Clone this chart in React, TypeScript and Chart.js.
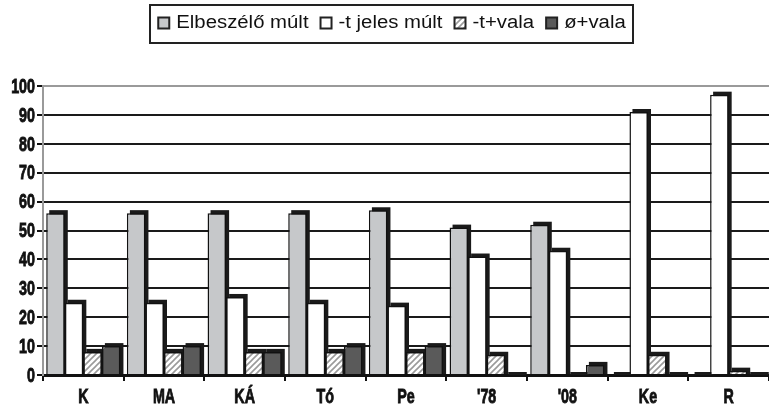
import { useEffect, useRef } from 'react';
import { Chart, registerables } from 'chart.js';

Chart.register(...registerables);

const categories = ['K', 'MA', 'KÁ', 'Tó', 'Pe', "'78", "'08", 'Ke', 'R'];
const seriesNames = ['Elbeszélő múlt', '-t jeles múlt', '-t+vala', 'ø+vala'];
const elbeszeloMult = [56, 56, 56, 56, 57, 51, 52, 0, 0];
const tJelesMult = [25, 25, 27, 25, 24, 41, 43, 91, 97];
const tVala = [8, 8, 8, 8, 8, 7, 0, 7, 1.5];
const oVala = [10, 10, 8, 10, 10, 0, 3.5, 0, 0];
const yTickValues = [0, 10, 20, 30, 40, 50, 60, 70, 80, 90, 100];

const SANS = "'Liberation Sans', Arial, 'DejaVu Sans', sans-serif";
const TICK_FONT = "bold 21px 'Liberation Sans', Arial, sans-serif";
const TICK_SX = 0.68;
const LEGEND_FONT = "18px 'Liberation Sans', Arial, sans-serif";
const LEGEND_SX = 1.13;

function makeHatch(): CanvasPattern | string {
  const c = document.createElement('canvas');
  c.width = 6;
  c.height = 6;
  const g = c.getContext('2d');
  if (!g) return '#ccc';
  g.fillStyle = '#ffffff';
  g.fillRect(0, 0, 6, 6);
  g.strokeStyle = '#9a9a9a';
  g.lineWidth = 1.6;
  g.beginPath();
  g.moveTo(-1, 7);
  g.lineTo(7, -1);
  g.moveTo(-4, 4);
  g.lineTo(4, -4);
  g.moveTo(2, 10);
  g.lineTo(10, 2);
  g.stroke();
  const p = g.createPattern(c, 'repeat');
  return p || '#ccc';
}

function drawScaled(ctx: CanvasRenderingContext2D, text: string, x: number, y: number, align: CanvasTextAlign, sx: number, heavy = false) {
  ctx.save();
  ctx.translate(x, y);
  ctx.scale(sx, 1);
  ctx.textAlign = align;
  ctx.textBaseline = 'middle';
  ctx.fillText(text, 0, 0);
  if (heavy) {
    ctx.lineWidth = 0.9;
    ctx.strokeStyle = ctx.fillStyle as string;
    ctx.strokeText(text, 0, 0);
  }
  ctx.restore();
}

const depthPlugin = {
  id: 'depth',
  beforeDatasetsDraw(chart: any) {
    const ctx = chart.ctx;
    const d = 3;
    ctx.save();
    ctx.fillStyle = '#1a1a1a';
    chart.data.datasets.forEach((_: any, i: number) => {
      const meta = chart.getDatasetMeta(i);
      meta.data.forEach((bar: any) => {
        const w = bar.width;
        const left = bar.x - w / 2 + d;
        const top = bar.y - d;
        ctx.fillRect(left, top, w, bar.base - top);
      });
    });
    ctx.restore();
  },
};

const labelsPlugin = {
  id: 'condensedLabels',
  afterDraw(chart: any) {
    const ctx: CanvasRenderingContext2D = chart.ctx;
    const xs = chart.scales.x;
    const ys = chart.scales.y;
    ctx.save();
    ctx.fillStyle = '#111';
    ctx.font = TICK_FONT;
    xs.ticks.forEach((_: any, i: number) => {
      drawScaled(ctx, String(categories[i]), xs.getPixelForTick(i), 397, 'center', TICK_SX, true);
    });
    yTickValues.forEach((v) => {
      drawScaled(ctx, String(v), 35, ys.getPixelForValue(v) + 1, 'right', TICK_SX, true);
    });

    // legend
    ctx.font = LEGEND_FONT;
    const box = 11;
    const gapText = 7;
    const gapItem = 12;
    const widths = seriesNames.map((s) => ctx.measureText(s).width * LEGEND_SX);
    const total = widths.reduce((a, w) => a + box + gapText + w, 0) + gapItem * (seriesNames.length - 1);
    const cx = 392;
    let x = cx - total / 2;
    const cy = 23;
    ctx.strokeStyle = '#222';
    ctx.lineWidth = 2;
    ctx.strokeRect(Math.round(x - 8), 5, Math.round(total + 16), 38);
    chart.data.datasets.forEach((ds: any, i: number) => {
      ctx.fillStyle = ds.backgroundColor;
      ctx.fillRect(x, cy - box / 2, box, box);
      ctx.strokeStyle = '#222';
      ctx.lineWidth = 2;
      ctx.strokeRect(x, cy - box / 2, box, box);
      ctx.fillStyle = '#111';
      drawScaled(ctx, seriesNames[i], x + box + gapText, cy, 'left', LEGEND_SX);
      x += box + gapText + widths[i] + gapItem;
    });
    ctx.restore();
  },
};

export default function App() {
  const ref = useRef<HTMLCanvasElement | null>(null);

  useEffect(() => {
    if (!ref.current) return;
    const hatch = makeHatch();
    const common = { borderColor: '#111', borderWidth: 1.5, categoryPercentage: 0.92, barPercentage: 1.0 };
    const chart = new Chart(ref.current, {
      type: 'bar',
      data: {
        labels: categories,
        datasets: [
          { label: seriesNames[0], data: elbeszeloMult, backgroundColor: '#c6c8ca', ...common },
          { label: seriesNames[1], data: tJelesMult, backgroundColor: '#ffffff', ...common },
          { label: seriesNames[2], data: tVala, backgroundColor: hatch as any, ...common },
          { label: seriesNames[3], data: oVala, backgroundColor: '#5a5a5a', ...common },
        ],
      },
      options: {
        animation: false,
        responsive: true,
        maintainAspectRatio: false,
        layout: { padding: { top: 86, left: 0, right: 0, bottom: 0 } },
        plugins: {
          tooltip: { enabled: false },
          legend: { display: false },
        },
        scales: {
          x: {
            afterFit(s: any) {
              s.height = 32;
            },
            grid: {
              offset: true,
              drawOnChartArea: false,
              drawTicks: true,
              tickLength: 6,
              color: '#111',
              lineWidth: 2,
            },
            border: { color: '#111', width: 3 },
            ticks: {
              color: 'rgba(0,0,0,0)',
              padding: 5,
              font: { family: SANS, size: 16, weight: 'bold' },
            },
          },
          y: {
            min: 0,
            max: 100,
            afterFit(s: any) {
              s.width = 43;
            },
            afterBuildTicks(s: any) {
              s.ticks = yTickValues.map((v) => ({ value: v }));
            },
            grid: {
              color: (c: any) => (c.tick && c.tick.value === 100 ? '#9a9a9a' : '#1a1a1a'),
              lineWidth: 2,
              drawTicks: true,
              tickLength: 6,
              tickColor: '#111',
            },
            border: { color: '#9a9a9a', width: 2 },
            ticks: {
              color: 'rgba(0,0,0,0)',
              padding: 2,
              font: { family: SANS, size: 14, weight: 'bold' },
            },
          },
        },
      } as any,
      plugins: [depthPlugin, labelsPlugin],
    });
    return () => chart.destroy();
  }, []);

  return (
    <div style={{ position: 'fixed', left: 0, top: 0, width: 769, height: 407, background: '#fff' }}>
      <canvas ref={ref} />
    </div>
  );
}
